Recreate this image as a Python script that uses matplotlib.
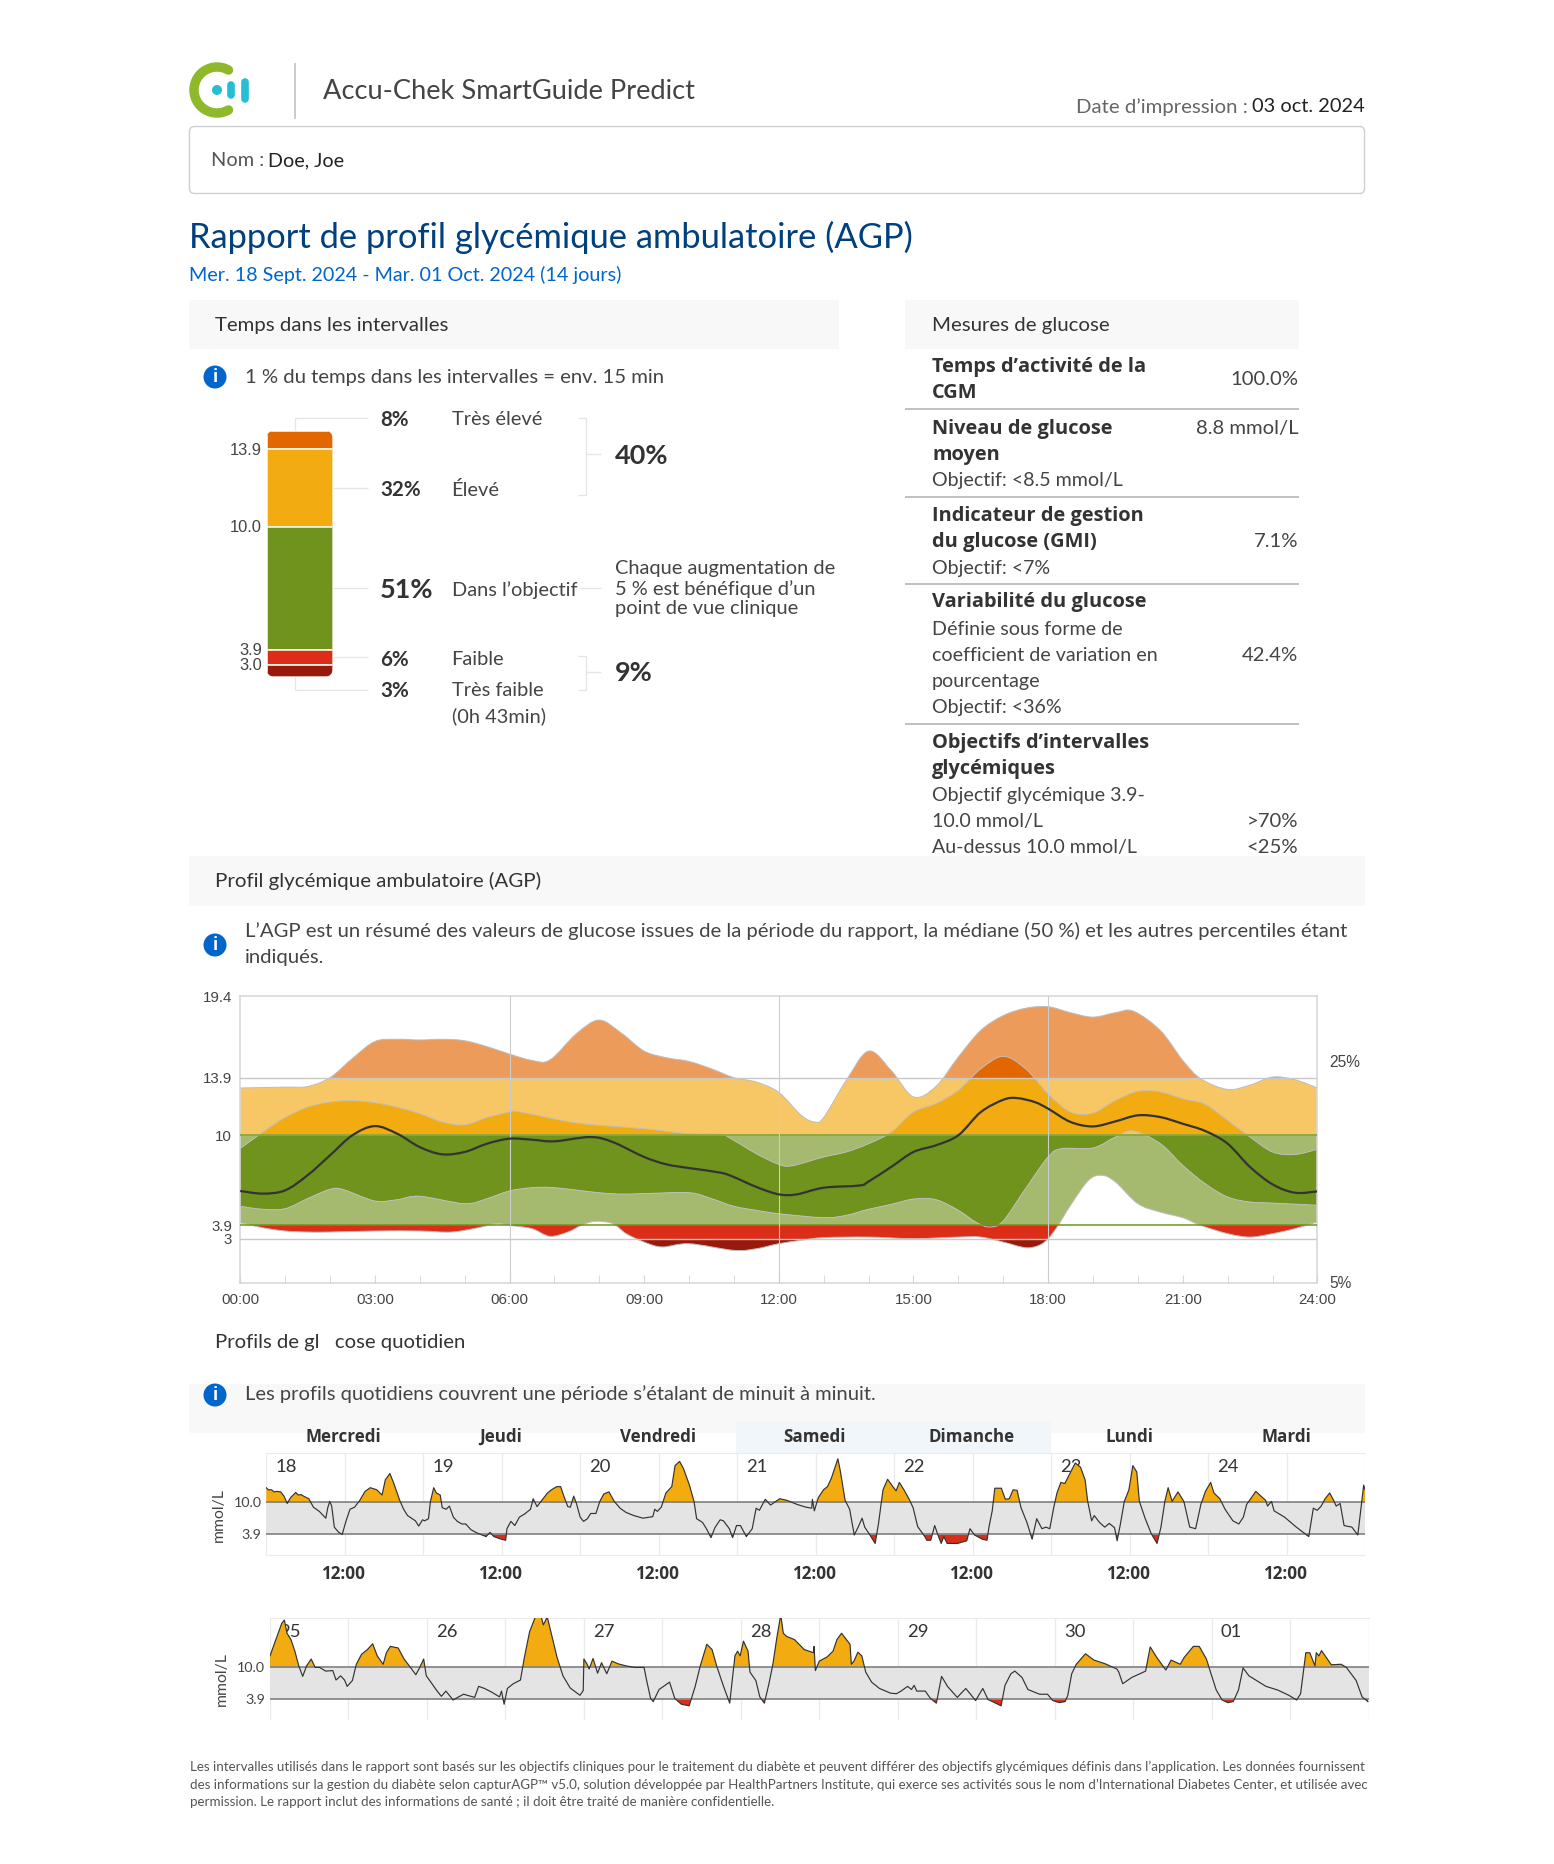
import numpy as np
import matplotlib
matplotlib.use('Agg')
import matplotlib.pyplot as plt
from matplotlib.path import Path
from matplotlib.patches import PathPatch, Rectangle, Circle, FancyBboxPatch
from matplotlib.transforms import Bbox, TransformedBbox, ScaledTranslation

W, H = 1554, 1864
MAIN = 'Lato'
BOLD = 'Open Sans'
AXF = 'Liberation Sans'

# time in range, as labelled and as drawn
tir_labels = ['Très élevé', 'Élevé', "Dans l’objectif", 'Faible', 'Très faible']
tir_pct = [8, 32, 51, 6, 3]
tir_drawn = [7.6, 31.5, 50.2, 6.1, 4.6]
tir_colors = ['#E36700', '#F2AB10', '#70931E', '#DB2D18', '#99190C']

# AGP percentiles, mmol/L
t95 = [0, 1, 1.5, 2, 2.5, 3, 3.5, 4, 4.5, 5, 5.5, 6, 6.5, 6.9, 7.5, 8, 8.5, 9, 9.5, 10, 10.5, 11, 11.5, 12, 12.5, 12.8, 13, 13.5, 14, 14.5, 15, 15.5, 16, 16.5, 17, 17.5, 18, 18.5, 19, 19.5, 19.9, 20.5, 21, 21.4, 22, 22.5, 23, 23.5, 24]
p95 = [13.2, 13.26, 13.3, 13.9, 15.2, 16.35, 16.5, 16.45, 16.5, 16.4, 16.0, 15.5, 15.07, 15.1, 16.9, 17.8, 16.9, 15.7, 15.25, 15.0, 14.5, 13.9, 13.6, 12.9, 11.35, 10.9, 11.2, 13.7, 15.7, 14.4, 12.6, 13.3, 15.3, 17.1, 18.1, 18.6, 18.7, 18.3, 18.0, 18.3, 18.4, 17.1, 15.07, 13.83, 13.1, 13.4, 13.94, 13.76, 13.2]
t75 = [0, 0.5, 1, 1.5, 2, 2.5, 3, 3.5, 4, 4.5, 5, 5.5, 6, 6.2, 7, 7.5, 8, 9, 10, 10.7, 11, 11.5, 12, 12.3, 13, 13.5, 14, 14.5, 15, 15.5, 16, 16.5, 17, 17.5, 18, 18.5, 19, 19.5, 20, 20.5, 21, 21.5, 22, 22.5, 23, 23.5, 24]
p75 = [9.1, 10.2, 11.2, 11.9, 12.25, 12.34, 12.2, 11.9, 11.46, 10.9, 10.7, 11.2, 11.57, 11.6, 11.1, 10.83, 10.67, 10.44, 10.1, 10.06, 9.65, 8.75, 8.03, 7.94, 8.53, 8.87, 9.43, 10.2, 11.57, 12.14, 13.04, 14.5, 15.34, 14.5, 12.8, 11.57, 11.5, 12.36, 12.97, 12.93, 12.47, 12.09, 11.0, 9.88, 8.87, 8.7, 9.05]
t50 = [0, 0.5, 1, 1.5, 2, 2.5, 3, 3.5, 4, 4.5, 5, 5.5, 6, 6.5, 7, 7.8, 8.3, 9, 9.5, 10, 10.7, 11, 11.5, 12, 12.4, 13, 13.8, 14, 14.5, 15, 15.5, 16, 16.5, 17, 17.3, 17.7, 18, 18.5, 19, 19.5, 20, 20.5, 21, 21.5, 22, 22.5, 23, 23.5, 24]
p50 = [6.23, 6.05, 6.27, 7.29, 8.64, 10.0, 10.62, 10.1, 9.2, 8.71, 8.87, 9.43, 9.77, 9.7, 9.59, 9.88, 9.54, 8.53, 8.03, 7.78, 7.47, 7.17, 6.5, 6.0, 6.0, 6.45, 6.6, 6.87, 7.85, 8.87, 9.32, 10.0, 11.57, 12.4, 12.52, 12.25, 11.8, 10.9, 10.6, 10.94, 11.35, 11.23, 10.78, 10.29, 9.43, 7.85, 6.68, 6.11, 6.2]
t25 = [0, 0.5, 1, 1.5, 2, 2.3, 3, 3.5, 4, 5, 5.5, 6, 6.5, 7, 8, 8.5, 9, 10, 10.5, 11, 11.5, 12, 13, 13.5, 14, 14.5, 15, 15.5, 16, 16.4, 16.7, 17, 17.5, 18, 18.3, 19, 19.5, 19.9, 20.5, 21, 21.5, 22, 22.5, 23, 24]
p25 = [5.19, 4.99, 5.03, 5.71, 6.34, 6.32, 5.55, 5.64, 5.87, 5.37, 5.71, 6.23, 6.45, 6.45, 6.11, 6.02, 6.05, 6.11, 5.71, 5.19, 4.92, 4.69, 4.42, 4.58, 4.99, 5.32, 5.68, 5.64, 4.92, 4.1, 3.79, 4.2, 6.4, 8.53, 9.09, 9.14, 9.88, 10.29, 9.43, 7.96, 6.72, 5.82, 5.48, 5.41, 5.26]
t05 = [0, 0.5, 1, 1.5, 2, 3, 4, 4.7, 5.3, 5.7, 6, 6.5, 6.9, 7.3, 7.6, 7.9, 8.3, 8.6, 9, 9.4, 10, 11, 11.5, 12, 12.5, 13, 14, 15, 16, 16.5, 17, 17.5, 17.8, 18, 18.2, 18.5, 18.9, 19.2, 19.5, 20, 20.5, 21, 21.4, 22, 22.5, 23, 23.5, 24]
p05 = [4.08, 3.74, 3.52, 3.45, 3.45, 3.52, 3.52, 3.45, 3.74, 4.02, 3.9, 3.68, 3.16, 3.45, 3.9, 4.17, 4.02, 3.34, 2.77, 2.44, 2.66, 2.21, 2.32, 2.66, 2.89, 3.07, 3.11, 3.0, 3.11, 3.11, 2.77, 2.39, 2.55, 3.0, 3.79, 5.26, 6.95, 7.29, 6.84, 5.37, 4.8, 4.42, 3.9, 3.34, 3.11, 3.34, 3.68, 4.13]
agp_yticks = [3, 3.9, 10, 13.9, 19.4]
agp_ylabels = ['3', '3.9', '10', '13.9', '19.4']

# daily profiles: hour of day, mmol/L
t18 = [0, 0.3, 0.8, 1.2, 1.6, 2.2, 2.7, 3.2, 3.7, 4.5, 4.9, 5.3, 5.7, 6.5, 7.2, 8.1, 9.1, 9.4, 9.7, 10, 10.4, 11, 11.6, 12.2, 12.8, 13.5, 14.3, 15.1, 15.9, 16.9, 17.7, 18.2, 18.9, 19.5, 20.4, 21, 21.6, 22.8, 23.3, 23.9]
g18 = [12.8, 12.4, 12.4, 12.0, 12.1, 12.0, 11.2, 9.8, 10.9, 11.9, 11.4, 11.5, 11.2, 10.7, 9.1, 8.3, 7.0, 9.0, 10.2, 9.3, 5.3, 4.4, 3.9, 6.5, 8.7, 9.1, 10.4, 12.1, 12.8, 12.4, 11.4, 14.3, 15.5, 13.6, 10.4, 8.7, 7.5, 6.5, 5.5, 6.7]
t19 = [0.2, 0.8, 1.1, 1.6, 2, 2.6, 2.9, 3.5, 4, 4.6, 5.2, 5.9, 6.5, 7.3, 8.2, 9, 9.6, 10.2, 10.8, 11.7, 12.6, 12.8, 13.4, 14, 14.7, 15.5, 16.4, 16.8, 17.4, 18, 19, 19.6, 20.4, 21, 21.5, 22.1, 22.5, 23, 23.4]
g19 = [6.5, 6.9, 10.2, 12.8, 11.8, 11.4, 9.0, 8.7, 9.3, 7.2, 6.4, 5.9, 5.9, 4.8, 4.2, 3.8, 3.5, 4.3, 3.5, 3.1, 2.8, 5.0, 6.4, 5.6, 7.2, 7.8, 8.7, 10.7, 9.2, 10.2, 11.8, 12.4, 13.0, 13.0, 11.2, 9.2, 9.1, 11.2, 9.9]
t20 = [0, 0.5, 1.1, 1.6, 2.4, 3, 3.6, 4.4, 5.2, 6.1, 7, 8.2, 9.6, 11.1, 11.4, 11.8, 12.4, 13.1, 14, 14.5, 15.2, 15.8, 16.7, 17.4, 17.8, 18.7, 19.3, 20, 20.6, 21.4, 21.9, 22.8, 23.3, 23.9]
g20 = [7.2, 6.4, 6.9, 7.9, 7.9, 10.2, 11.6, 12.0, 10.2, 8.9, 8.1, 7.5, 7.0, 7.3, 8.7, 8.3, 9.1, 11.8, 13.0, 17.0, 17.8, 16.4, 13.3, 10.2, 6.9, 6.2, 5.0, 3.3, 5.2, 6.7, 6.5, 5.0, 3.3, 5.6]
t21 = [0.5, 1.4, 2.3, 2.9, 3.4, 4.3, 5.1, 5.8, 6.5, 7.6, 9.2, 10.5, 11.4, 11.5, 11.8, 12.4, 13.2, 13.8, 14.4, 15.4, 15.8, 16.5, 17.2, 17.9, 18.5, 19.1, 19.5, 20.3, 21.1, 21.6, 22.3, 23, 23.8]
g21 = [5.6, 3.5, 5.0, 8.9, 8.5, 10.6, 9.5, 10.1, 10.7, 10.4, 9.6, 9.1, 8.9, 10.6, 8.4, 10.9, 12.4, 13.0, 14.6, 18.3, 15.8, 10.4, 8.7, 3.8, 5.3, 7.0, 5.3, 3.8, 2.2, 5.9, 12.4, 14.4, 13.0]
t22 = [0.3, 0.8, 1.5, 2.3, 2.9, 3.6, 4.7, 5, 5.6, 6.2, 6.7, 7.2, 7.6, 8.1, 9.7, 11.1, 11.6, 12.3, 13.5, 14.2, 14.5, 15, 15.4, 16.4, 17, 17.6, 18.2, 18.8, 19.4, 20.3, 21.1, 21.8, 22.6, 23.2, 23.8]
g22 = [12.2, 13.8, 12.4, 10.6, 9.0, 5.4, 3.5, 2.8, 2.8, 5.6, 3.8, 2.2, 3.5, 2.2, 2.2, 2.7, 5.0, 3.8, 3.0, 2.8, 5.3, 8.4, 12.7, 12.7, 10.6, 10.7, 12.4, 12.3, 9.0, 6.2, 3.0, 6.9, 5.0, 5.3, 5.0]
t23 = [0.4, 0.9, 1.5, 2.1, 3, 3.7, 4.5, 5.2, 5.6, 6.2, 6.6, 7.4, 8.2, 8.9, 9.7, 10.1, 10.6, 11.2, 11.9, 12.5, 13.1, 13.5, 14.4, 15.3, 16.2, 16.8, 17.4, 17.9, 18.5, 19.4, 20.3, 21.2, 22.1, 22.9, 23.6]
g23 = [9.0, 11.8, 13.8, 13.6, 15.8, 17.5, 16.7, 14.3, 10.2, 6.5, 7.5, 6.2, 5.3, 6.0, 5.2, 2.7, 5.9, 10.2, 12.4, 17.0, 15.8, 10.2, 6.9, 4.1, 2.2, 5.3, 10.2, 12.8, 10.2, 12.0, 10.2, 5.3, 5.0, 9.6, 12.1]
t24 = [0.4, 0.9, 1.8, 2.6, 3.8, 4.7, 5.4, 5.9, 7.3, 8.8, 9.1, 9.7, 10.1, 11.7, 13.5, 15.4, 16.1, 16.7, 17.3, 17.9, 18.6, 19.2, 19.6, 20.2, 20.8, 22, 22.9, 23.5, 23.8, 24]
g24 = [13.8, 11.8, 10.7, 8.7, 6.5, 5.9, 7.2, 9.6, 12.1, 10.4, 9.3, 10.2, 8.4, 7.2, 5.3, 3.5, 8.9, 8.5, 9.3, 10.7, 11.8, 10.4, 9.3, 9.8, 5.6, 5.3, 3.8, 10.2, 13.3, 12.4]
t25d = [0, 0.9, 1.8, 2.2, 2.6, 3.2, 3.8, 4.4, 5, 5.6, 6.3, 6.9, 7.6, 8.5, 9.6, 10.1, 10.8, 11.4, 11.8, 12.6, 13.2, 14, 14.9, 15.7, 16.4, 17.3, 17.8, 18.4, 19.6, 20.5, 21.3, 22.3, 22.9, 23.5, 23.9]
g25d = [12.2, 15.3, 18.4, 19.0, 16.5, 15.3, 13.1, 10.3, 8.3, 10.3, 11.6, 10.0, 10.0, 9.3, 9.4, 7.6, 8.4, 7.6, 6.4, 7.5, 10.6, 12.5, 13.4, 14.5, 12.2, 10.6, 12.8, 14.0, 13.7, 11.6, 10.3, 8.6, 10.0, 11.6, 8.4]
t26 = [0.6, 1.5, 2.2, 2.9, 4, 4.7, 5.6, 7.3, 7.9, 8.8, 9.9, 11.1, 11.4, 11.8, 12.3, 13.2, 14.3, 14.9, 15.7, 16.7, 17.4, 17.8, 18.4, 19, 19.9, 20.8, 21.9, 23.4, 23.9]
g26 = [7.2, 5.6, 4.5, 5.5, 3.8, 4.3, 4.9, 4.3, 6.4, 6.0, 5.3, 4.4, 5.5, 3.0, 6.0, 6.9, 7.6, 11.9, 16.8, 20.0, 20.0, 18.1, 19.6, 16.5, 11.9, 8.4, 6.1, 4.7, 5.6]
t27 = [0, 0.5, 0.8, 1.4, 2.1, 2.7, 3.5, 4.3, 5.2, 6.4, 7.8, 9.2, 9.6, 10.2, 10.6, 11.5, 13.1, 13.9, 14.9, 16.1, 17, 17.8, 18.8, 19.6, 20.3, 21.3, 22.3, 23.1, 23.5, 23.9]
g27 = [11.6, 10.6, 9.7, 11.7, 8.9, 10.9, 8.8, 11.2, 10.7, 10.3, 10.0, 10.0, 7.5, 4.1, 3.5, 5.8, 7.2, 4.1, 3.0, 2.7, 6.3, 10.3, 14.4, 13.4, 10.3, 6.6, 3.2, 12.2, 13.1, 12.2]
t28 = [0.4, 1.1, 1.4, 2.3, 2.9, 3.6, 4.3, 4.9, 5.5, 6.1, 6.5, 7, 8.2, 9.7, 11.1, 11.2, 11.4, 12, 13.2, 14.1, 14.7, 15.4, 16.7, 16.9, 17.3, 17.9, 18.5, 19.1, 20, 21.2, 22.9, 23.8]
g28 = [15.0, 13.1, 9.1, 7.5, 4.4, 3.2, 6.9, 10.6, 15.6, 20.0, 16.5, 15.9, 15.3, 13.4, 12.8, 14.0, 9.4, 11.2, 12.0, 13.1, 15.3, 16.5, 14.4, 10.6, 11.2, 12.9, 12.2, 9.1, 7.2, 6.0, 5.1, 5.0]
t29 = [0.5, 1.5, 2.1, 2.5, 2.9, 4.2, 5, 5.9, 6.7, 7.6, 9.1, 10.4, 11.9, 13, 13.8, 15.8, 16.4, 17.3, 17.9, 19, 19.9, 21.7, 22.9, 23.7]
g29 = [5.5, 6.4, 5.8, 6.6, 5.5, 5.5, 4.1, 3.2, 8.3, 6.4, 4.3, 6.0, 3.7, 6.0, 3.9, 2.7, 6.6, 8.8, 9.3, 8.1, 5.8, 4.9, 4.9, 3.7]
t30 = [0.7, 1.6, 2, 2.6, 3.3, 4.7, 6, 7.7, 9.5, 9.8, 10.4, 11.8, 13.9, 14.6, 15.6, 17, 17.8, 19.2, 19.8, 21.2, 22.1, 23.2, 23.9]
g30 = [3.3, 3.5, 4.7, 8.8, 10.6, 12.6, 11.4, 10.7, 9.7, 9.1, 6.9, 8.1, 9.3, 13.9, 11.9, 9.5, 11.4, 10.6, 11.9, 14.0, 14.0, 11.6, 8.8]
t01 = [0.7, 1.6, 2.5, 3.3, 4.1, 4.8, 5.7, 8.3, 10.1, 11.8, 13, 13.6, 14.4, 15, 15.8, 16, 16.4, 16.8, 18.3, 19.8, 20.6, 22.1, 23, 23.9]
g01 = [5.7, 3.8, 3.3, 3.5, 5.7, 9.9, 8.4, 6.4, 5.7, 4.7, 3.8, 5.0, 12.8, 12.8, 10.3, 12.8, 12.2, 13.2, 10.5, 10.6, 10.0, 7.5, 4.4, 3.5]

week1_days = ['18', '19', '20', '21', '22', '23', '24']
week2_days = ['25', '26', '27', '28', '29', '30', '01']
week1_t = [t18, t19, t20, t21, t22, t23, t24]
week1_g = [g18, g19, g20, g21, g22, g23, g24]
week2_t = [t25d, t26, t27, t28, t29, t30, t01]
week2_g = [g25d, g26, g27, g28, g29, g30, g01]
weekdays = ['Mercredi', 'Jeudi', 'Vendredi', 'Samedi', 'Dimanche', 'Lundi', 'Mardi']


fig = plt.figure(figsize=(W / 100, H / 100), dpi=100)
bg = fig.add_axes([0, 0, 1, 1])
bg.set_xlim(0, W)
bg.set_ylim(H, 0)
bg.axis('off')


def px_axes(left, top, right, bottom):
    ax = fig.add_axes([left / W, 1 - bottom / H, (right - left) / W, (bottom - top) / H])
    ax.patch.set_alpha(0)
    return ax


def txt(x, y, s, size=19, color='#444444', weight='normal', ha='left', family=MAIN, ax=bg, **kw):
    return ax.text(x, y + 1.8, s, fontsize=size * 0.72, color=color, fontweight=weight, ha=ha,
                   va='center', family=family, **kw)


def rule(xs, ys, color='#E6E6E6', lw=1.0, z=1):
    bg.plot(xs, ys, color=color, lw=lw, solid_capstyle='butt', zorder=z)


def panel(x0, y0, x1, y1, color='#F8F8F8', z=2):
    bg.add_patch(Rectangle((x0, y0), x1 - x0, y1 - y0, facecolor=color, edgecolor='none', zorder=z))


def info(x, y):
    bg.add_patch(Circle((x, y), 11.5, facecolor='#0066CC', edgecolor='none', zorder=3))
    txt(x, y - 1.8, 'i', 17, 'white', 'bold', 'center', BOLD, zorder=4)


# header
ang = np.radians(np.linspace(60, 300, 60))
bg.plot(217 + 23 * np.cos(ang), 90 + 23 * np.sin(ang), color='#8DB92B', lw=6.8, solid_capstyle='round')
bg.add_patch(Circle((217, 90), 5, facecolor='#27BDD4', edgecolor='none'))
bg.plot([231, 231], [85, 95], color='#27BDD4', lw=5.5, solid_capstyle='round')
bg.plot([245, 245], [82, 99], color='#27BDD4', lw=5.5, solid_capstyle='round')
rule([295, 295], [63, 119], '#BDBDBD', 1.1)
txt(323, 90, 'Accu-Chek SmartGuide Predict', 27.3)
txt(1365, 105, '03 oct. 2024', 20, '#222222', ha='right')
txt(1248, 105, 'Date d’impression :', 20.4, '#666666', ha='right')
bg.add_patch(FancyBboxPatch((189.5, 126.5), 1175, 67, boxstyle='round,pad=0,rounding_size=5',
                            facecolor='white', edgecolor='#CFCFCF', lw=1))
txt(211, 159, 'Nom :', 20, '#555555')
txt(268, 159, 'Doe, Joe', 19.7, '#222222')
txt(189, 236, 'Rapport de profil glycémique ambulatoire (AGP)', 34.5, '#00407F')
txt(189, 273, 'Mer. 18 Sept. 2024 - Mar. 01 Oct. 2024 (14 jours)', 19.8, '#0066CC')

# time in range
panel(189, 300, 839, 349)
txt(215, 323.5, 'Temps dans les intervalles', 20.4, '#333333', zorder=3)
info(215, 377)
txt(245, 375.5, '1 % du temps dans les intervalles = env. 15 min', 20.25)

bar_ax = px_axes(266.7, 430.7, 332.6, 676.7)
bar_ax.set_xlim(0, 1)
bar_ax.set_ylim(0, 100)
bar_ax.axis('off')
clip = FancyBboxPatch((266.7, 430.7), 65.9, 246, boxstyle='round,pad=0,rounding_size=8',
                      transform=bg.transData)
bottom = 100.0
for val, col in zip(tir_drawn, tir_colors):
    bottom -= val
    b = bar_ax.bar(0.5, val, bottom=bottom, width=1, color=col, edgecolor='#F8F4E8', lw=1.2)
    b[0].set_clip_path(clip)

for lab, y in zip(['13.9', '10.0', '3.9', '3.0'], [449, 526, 649, 664]):
    txt(262, y, lab, 16.5, '#444444', ha='right', family=AXF)

rule([295, 295, 368], [430, 418, 418])
rule([333, 368], [488, 488])
rule([333, 368], [588, 588])
rule([579, 601], [588, 588])
rule([333, 368], [657, 657])
rule([295, 295, 368], [677, 690, 690])
rule([578, 585.5, 585.5, 578], [418, 418, 495, 495])
rule([585.5, 601], [454, 454])
rule([578, 585.5, 585.5, 578], [656, 656, 690, 690])
rule([585.5, 601], [672, 672])

row_y = [418, 488, 588, 658, 689]
for pct, lab, y in zip(tir_pct, tir_labels, row_y):
    big = pct == 51
    txt(380, y, f'{pct}%', 27 if big else 20.5, '#333333', 'bold')
    txt(451.5, y, lab, 20)
txt(451.5, 714, '(0h 43min)', 20)
txt(615, 454, '40%', 27, '#333333', 'bold')
txt(615, 671, '9%', 27, '#333333', 'bold')
for y, s in zip([567, 587, 607], ['Chaque augmentation de', '5 % est bénéfique d’un', 'point de vue clinique']):
    txt(615, y, s, 20)

# glucose metrics
panel(905, 300, 1298.5, 349)
txt(932, 323.5, 'Mesures de glucose', 20.4, '#333333', zorder=3)
for y in [409, 497, 584, 724]:
    rule([905, 1298.5], [y, y], '#BBBBBB', 1.3)
bold_rows = [(365, 'Temps d’activité de la'), (391, 'CGM'), (427, 'Niveau de glucose'), (453, 'moyen'),
             (514, 'Indicateur de gestion'), (540, 'du glucose (GMI)'), (600, 'Variabilité du glucose'),
             (741, 'Objectifs d’intervalles'), (767, 'glycémiques')]
for y, s in bold_rows:
    txt(932, y, s, 20, '#333333', 'bold', family=BOLD)
plain_rows = [(479, 'Objectif: <8.5 mmol/L'), (567, 'Objectif: <7%'), (628, 'Définie sous forme de'),
              (654, 'coefficient de variation en'), (680, 'pourcentage'), (706, 'Objectif: <36%'),
              (794, 'Objectif glycémique 3.9-'), (820, '10.0 mmol/L'), (846, 'Au-dessus 10.0 mmol/L')]
for y, s in plain_rows:
    txt(932, y, s, 19.7)
value_rows = [(378, '100.0%'), (427, '8.8 mmol/L'), (540, '7.1%'), (654, '42.4%'), (820, '>70%'), (846, '<25%')]
for y, s in value_rows:
    txt(1298.5, y, s, 20.3, ha='right')

# AGP panel
panel(189, 856, 1365, 906)
txt(215, 879.5, 'Profil glycémique ambulatoire (AGP)', 20.5, '#333333', zorder=3)
info(215, 945)
txt(245, 929.5, 'L’AGP est un résumé des valeurs de glucose issues de la période du rapport, la médiane (50 %) et les autres percentiles étant', 20.3)
txt(245, 955.5, 'indiqués.', 20.3)


def curve_verts(xs, ys):
    # catmull-rom through the read points, as a bezier path
    p = np.column_stack([xs, ys]).astype(float)
    q = np.vstack([p[0], p, p[-1]])
    verts = []
    for i in range(1, len(q) - 2):
        verts += [q[i] + (q[i + 1] - q[i - 1]) / 6, q[i + 1] - (q[i + 2] - q[i]) / 6, q[i + 1]]
    return p[0], verts


def line_path(xs, ys):
    start, v = curve_verts(xs, ys)
    return Path([start] + v, [Path.MOVETO] + [Path.CURVE4] * len(v))


def band_path(xa, ya, xb, yb):
    sa, va = curve_verts(xa, ya)
    sb, vb = curve_verts(xb[::-1], yb[::-1])
    verts = [sa] + va + [sb] + vb + [sa]
    codes = [Path.MOVETO] + [Path.CURVE4] * len(va) + [Path.LINETO] + [Path.CURVE4] * len(vb) + [Path.CLOSEPOLY]
    return Path(verts, codes)


agp = px_axes(240.2, 996.4, 1317.4, 1283)
agp.set_xlim(0, 24)
agp.set_ylim(0, 19.4)
zones = [(13.9, 19.4, '#E36700', '#EC9B5B'), (10, 13.9, '#F2AB10', '#F7C766'),
         (3.9, 10, '#70931E', '#A5B96F'), (3, 3.9, '#DB2D18', '#DB2D18'), (0, 3, '#99190C', '#99190C')]
for lo, hi, dark, light in zones:
    box = TransformedBbox(Bbox([[0, lo], [24, hi]]), agp.transData)
    bands = [(t95, p95, t75, p75, light), (t75, p75, t25, p25, dark), (t25, p25, t05, p05, light)]
    for xa, ya, xb, yb, col in bands:
        patch = PathPatch(band_path(xa, ya, xb, yb), facecolor=col, edgecolor='none', zorder=2)
        agp.add_patch(patch)
        patch.set_clip_box(box)
for xs, ys in [(t95, p95), (t75, p75), (t25, p25), (t05, p05)]:
    agp.add_patch(PathPatch(line_path(xs, ys), facecolor='none', edgecolor='#BDBDBD', lw=0.7, zorder=3))
agp.axhline(13.9, color='#C8C8C8', lw=1.0, zorder=4)
agp.axhline(3, color='#C8C8C8', lw=1.0, zorder=4)
agp.axhline(10, color='#8BA83F', lw=1.3, zorder=4)
agp.axhline(3.9, color='#70931E', lw=1.1, zorder=4)
for h in [6, 12, 18]:
    agp.axvline(h, color='#CCCCCC', lw=0.8, zorder=5)
agp.add_patch(PathPatch(line_path(t50, p50), facecolor='none', edgecolor='#333333', lw=1.6, zorder=6))
agp.set_xticks(np.arange(0, 25, 3), [f'{h:02d}:00' for h in range(0, 25, 3)], fontsize=10.8,
               color='#444444', family=AXF)
agp.set_xticks(np.arange(0, 25, 1), minor=True)
agp.tick_params(axis='x', which='both', direction='in', length=6, color='#D6D6D6', pad=7)
agp.set_yticks(agp_yticks, agp_ylabels, fontsize=10.8, color='#444444', family=AXF)
agp.tick_params(axis='y', length=0, pad=6)
for s in agp.spines.values():
    s.set_color('#D6D6D6')
    s.set_linewidth(1.1)
txt(1329, 1061, '25%', 15.5, family=AXF)
txt(1329, 1282, '5%', 15.5, family=AXF)

# daily profiles
txt(215, 1341, 'Profils de gl   cose quotidien', 20.3, '#333333')
panel(189, 1384, 1365, 1433, z=1)
panel(736, 1421, 1051, 1453, '#F1F6FA', z=1.5)
info(215, 1395)
txt(245, 1392.5, 'Les profils quotidiens couvrent une période s’étalant de minuit à minuit.', 20.2, zorder=3)
for i, day in enumerate(weekdays):
    txt(343.6 + i * 157.1, 1435, day, 17, '#333333', 'bold', 'center', BOLD, zorder=3)


def week_chart(left, top, right, bottom, ts, gs, days, first_label, noon_labels, frame):
    ax = px_axes(left, top, right, bottom)
    t = np.concatenate([np.array(x) + i * 24 for i, x in enumerate(ts)])
    g = np.concatenate(gs)
    ax.set_xlim(0, 168)
    ax.set_ylim(0, 19.4)
    for i, d in enumerate(days):
        ax.text(i * 24 + first_label, 16.7, d, fontsize=13.3, color='#333333', family=MAIN, va='center', zorder=2)
    ax.axhspan(3.9, 10, color='#E4E4E4', lw=0, zorder=1)
    ax.fill_between(t, 10, g, where=g > 10, interpolate=True, color='#F2AB10', lw=0, zorder=3)
    ax.fill_between(t, 3.9, g, where=g < 3.9, interpolate=True, color='#DB2D18', lw=0, zorder=3)
    ax.axhline(10, color='#808080', lw=1.2, zorder=4)
    ax.axhline(3.9, color='#808080', lw=1.2, zorder=4)
    ax.plot(t, g, color='#333333', lw=0.85, zorder=5)
    labels = ['12:00' if (h % 24 == 12 and noon_labels) else '' for h in range(0, 169, 12)]
    ax.set_xticks(np.arange(0, 169, 12), labels, fontsize=12.3, fontweight='bold', family=BOLD, color='#333333')
    ax.grid(axis='x', color='#EBEBEB', lw=1.0, zorder=0)
    ax.set_axisbelow(True)
    ax.tick_params(axis='x', length=0, pad=7)
    # labels sit a little left of the noon gridlines
    shift = ScaledTranslation(-2 / 100, 0, fig.dpi_scale_trans)
    for lab in ax.get_xticklabels():
        lab.set_transform(lab.get_transform() + shift)
    ax.set_yticks([3.9, 10], ['3.9', '10.0'], fontsize=10.3, color='#444444', family=MAIN)
    ax.tick_params(axis='y', length=0, pad=3.5)
    for name, s in ax.spines.items():
        s.set_visible(frame and name in ('top', 'bottom') or name == 'top')
        s.set_color('#EBEBEB')
    return ax


w1 = week_chart(266.3, 1453, 1365, 1555, week1_t, week1_g, week1_days, 1.4, True, True)
w2 = week_chart(270, 1618, 1368.6, 1720, week2_t, week2_g, week2_days, 1.4, False, False)
txt(219, 1513, 'mmol/L', 15.7, rotation=90, ha='center')
txt(222, 1677, 'mmol/L', 15.7, rotation=90, ha='center')

# footer
foot = ['Les intervalles utilisés dans le rapport sont basés sur les objectifs cliniques pour le traitement du diabète et peuvent différer des objectifs glycémiques définis dans l’application. Les données fournissent',
        'des informations sur la gestion du diabète selon capturAGP™ v5.0, solution développée par HealthPartners Institute, qui exerce ses activités sous le nom d’International Diabetes Center, et utilisée avec',
        'permission. Le rapport inclut des informations de santé ; il doit être traité de manière confidentielle.']
for y, s in zip([1765, 1783, 1800], foot):
    txt(190, y, s, 13.45, '#555555')

fig.savefig('out.png', dpi=100)
